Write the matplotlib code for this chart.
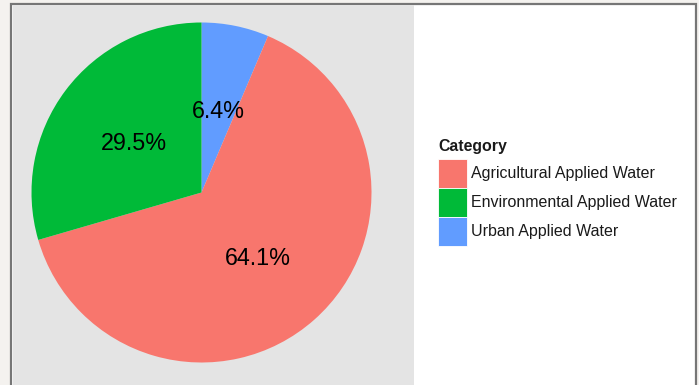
import matplotlib
matplotlib.use("Agg")
import matplotlib.pyplot as plt
from matplotlib.patches import Rectangle

# water use shares by category
categories = ["Urban Applied Water", "Agricultural Applied Water", "Environmental Applied Water"]
shares = [6.4, 64.1, 29.5]
colors = ["#619CFF", "#F8766D", "#00BA38"]

# legend order
legend_order = ["Agricultural Applied Water", "Environmental Applied Water", "Urban Applied Water"]

W, H = 699, 385
fig = plt.figure(figsize=(W / 100, H / 100), dpi=100, facecolor="#F4F2EF")
ax = fig.add_axes([0, 0, 1, 1])
plt.rcParams["font.family"] = ["Liberation Sans", "DejaVu Sans"]

# white plot area inside a grey frame
ax.add_patch(Rectangle((11, -10), 685, 391, facecolor="white", edgecolor="#767676",
                       lw=1.6, zorder=0))
# grey panel behind the pie
ax.add_patch(Rectangle((12.5, -10), 401, 390, facecolor="#E4E4E4", edgecolor="none",
                       zorder=1))

cx, cy, R = 201.5, 192.5, 170
wedges, _, autotexts = ax.pie(shares, colors=colors, startangle=90, counterclock=False,
                              center=(cx, cy), radius=R, autopct="%.1f%%",
                              pctdistance=0.5, frame=True,
                              wedgeprops=dict(linewidth=0, zorder=2),
                              textprops=dict(fontsize=16.8, color="black"))
for w in wedges:
    w.set_zorder(2)
for t in autotexts:
    t.set_zorder(3)
    t.set_va("center_baseline")

# legend
ax.text(438, H - 147, "Category", fontsize=11.4, fontweight="bold",
        ha="left", va="center", color="#1a1a1a")
lookup = dict(zip(categories, colors))
for i, name in enumerate(legend_order):
    top = 159 + i * 29
    ax.add_patch(Rectangle((437.5, H - top - 28.5), 29, 28.5,
                           facecolor=lookup[name], edgecolor="white", lw=0.6, zorder=2))
    ax.text(471, H - top - 14.5, name, fontsize=11.5, ha="left", va="center",
            color="#1a1a1a")

ax.set_xlim(0, W)
ax.set_ylim(0, H)
ax.set_aspect("auto")
ax.axis("off")

fig.savefig("out.png", dpi=100, facecolor=fig.get_facecolor())
